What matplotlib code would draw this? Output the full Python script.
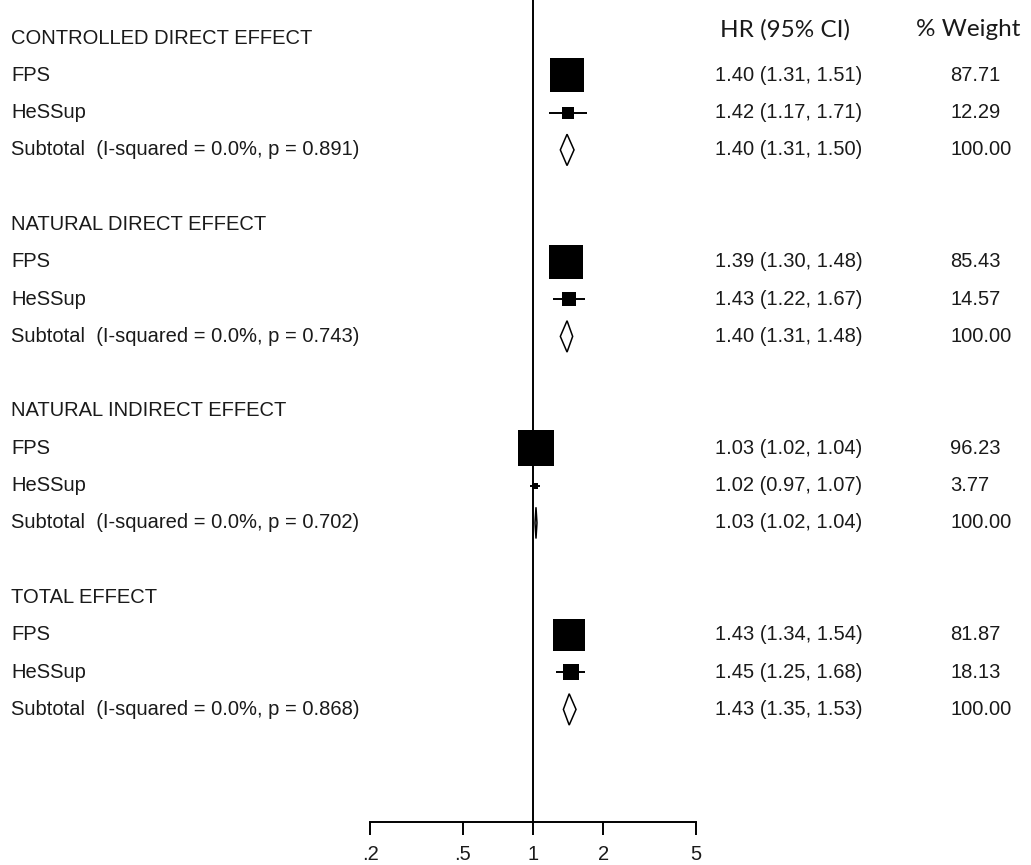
import numpy as np
import matplotlib.pyplot as plt

groups = ["CONTROLLED DIRECT EFFECT", "NATURAL DIRECT EFFECT",
          "NATURAL INDIRECT EFFECT", "TOTAL EFFECT"]
studies = ["FPS", "HeSSup"]
# per group: FPS, HeSSup, subtotal
hr = [[1.40, 1.42, 1.40], [1.39, 1.43, 1.40], [1.03, 1.02, 1.03], [1.43, 1.45, 1.43]]
lo = [[1.31, 1.17, 1.31], [1.30, 1.22, 1.31], [1.02, 0.97, 1.02], [1.34, 1.25, 1.35]]
hi = [[1.51, 1.71, 1.50], [1.48, 1.67, 1.48], [1.04, 1.07, 1.04], [1.54, 1.68, 1.53]]
weight = [[87.71, 12.29, 100.00], [85.43, 14.57, 100.00],
          [96.23, 3.77, 100.00], [81.87, 18.13, 100.00]]
i2 = [0.0, 0.0, 0.0, 0.0]
pval = [0.891, 0.743, 0.702, 0.868]
ticks = [0.2, 0.5, 1, 2, 5]
tick_labels = [".2", ".5", "1", "2", "5"]

W, H = 1031, 865
fig = plt.figure(figsize=(W / 100, H / 100), dpi=100)
ax = fig.add_axes([0, 0, 1, 1])
ax.set_xscale('log')

# pixel mapping: x=1 at 533px, 233 px per decade; row 0 at 38px, 37.3 px per row
ppd, x1 = 233.0, 533.0
ax.set_xlim(10 ** (-x1 / ppd), 10 ** ((W - x1) / ppd))
r0, rs = 38.0, 37.3
ax.set_ylim((H - r0) / rs, -r0 / rs)
axis_row = (822 - r0) / rs

txt = '#1a1a1a'
font = 'Liberation Sans'
fs = 14.5
tr = ax.get_yaxis_transform()

for g, name in enumerate(groups):
    base = g * 5
    ax.text(11 / W, base, name, transform=tr, fontsize=fs, family=font,
            color=txt, va='center', ha='left')
    labels = studies + ["Subtotal  (I-squared = %.1f%%, p = %.3f)" % (i2[g], pval[g])]
    for k in range(3):
        row = base + 1 + k
        ax.text(11 / W, row, labels[k], transform=tr, fontsize=fs, family=font,
                color=txt, va='center', ha='left')
        ax.text(789 / W, row, "%.2f (%.2f, %.2f)" % (hr[g][k], lo[g][k], hi[g][k]),
                transform=tr, fontsize=fs, family=font, color=txt,
                va='center', ha='center')
        ax.text(950 / W, row, "%.2f" % weight[g][k], transform=tr, fontsize=fs,
                family=font, color=txt, va='center', ha='left')
        if k < 2:
            ax.plot([lo[g][k], hi[g][k]], [row, row], color='black', lw=1.4,
                    solid_capstyle='butt', zorder=2)
            side_pt = 3.58 * np.sqrt(weight[g][k]) * 72 / 100
            ax.scatter([hr[g][k]], [row], s=side_pt ** 2, marker='s',
                       color='black', linewidths=0, zorder=3)
        else:
            h = 0.42
            ax.fill([lo[g][k], hr[g][k], hi[g][k], hr[g][k]],
                    [row, row - h, row, row + h], facecolor='white',
                    edgecolor='black', lw=1.1, zorder=3)

ax.text(785 / W, -0.22, "HR (95% CI)", transform=tr, fontsize=17.5, family='Lato',
        color=txt, va='center', ha='center')
ax.text(968 / W, -0.22, "% Weight", transform=tr, fontsize=17.5, family='Lato',
        color=txt, va='center', ha='center')

# null line
ax.plot([1, 1], [ax.get_ylim()[1], axis_row], color='black', lw=1.4, zorder=1)

for s in ['top', 'right', 'left']:
    ax.spines[s].set_visible(False)
ax.spines['bottom'].set_position(('data', axis_row))
ax.spines['bottom'].set_bounds(0.2, 5)
ax.spines['bottom'].set_linewidth(1.4)
ax.set_xticks(ticks)
ax.set_xticklabels(tick_labels, fontsize=fs, family=font, color=txt)
ax.xaxis.set_minor_locator(plt.NullLocator())
ax.tick_params(axis='x', direction='out', length=9.4, width=1.4, pad=7)
ax.set_yticks([])

fig.savefig('out.png', dpi=100)
